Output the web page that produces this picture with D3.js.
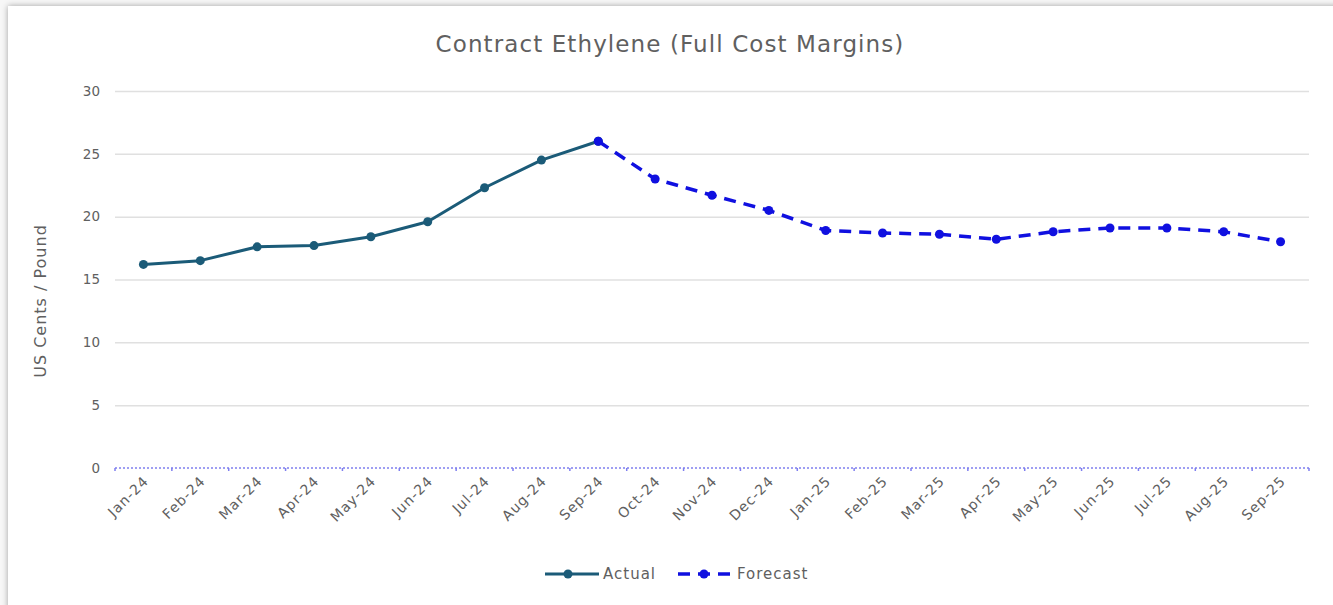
<!DOCTYPE html>
<html>
<head>
<meta charset="utf-8">
<script src="https://cdn.jsdelivr.net/npm/d3@7"></script>
<style>
  html, body { margin: 0; padding: 0; background: #f7f7f7; overflow: hidden; }
  #card {
    position: absolute; left: 8px; top: 6px; width: 1340px; height: 620px;
    background: #ffffff; box-shadow: 0 0 6px rgba(0,0,0,0.35);
  }
  svg { position: absolute; left: 0; top: 0; }
  text { font-family: "DejaVu Sans", "Noto Sans", sans-serif; }
</style>
</head>
<body>
<div id="card"></div>
<svg id="chart" width="1333" height="605"></svg>
<script>
// Month labels along the category axis
const months = ["Jan-24","Feb-24","Mar-24","Apr-24","May-24","Jun-24","Jul-24","Aug-24","Sep-24",
                "Oct-24","Nov-24","Dec-24","Jan-25","Feb-25","Mar-25","Apr-25","May-25","Jun-25",
                "Jul-25","Aug-25","Sep-25"];
// Actual margins, Jan-24 .. Sep-24 (US cents / pound)
const actual = [16.2, 16.5, 17.6, 17.7, 18.4, 19.6, 22.3, 24.5, 26.0];
// Forecast margins, Sep-24 .. Sep-25
const forecastMonths = months.slice(8);
const forecast = [26.0, 23.0, 21.7, 20.5, 18.9, 18.7, 18.6, 18.2, 18.8, 19.1, 19.1, 18.8, 18.0];
const yTicks = [0, 5, 10, 15, 20, 25, 30];

const svg = d3.select("#chart");
const plotLeft = 115, plotRight = 1309, plotTop = 91, plotBottom = 468;

const x = d3.scaleBand().domain(months).range([plotLeft, plotRight]).paddingInner(0).paddingOuter(0);
const cx = m => x(m) + x.bandwidth() / 2;
const y = d3.scaleLinear().domain([0, 30]).range([plotBottom, plotTop]);

const actualColor = "#1b5b78";
const forecastColor = "#1010e0";
const textColor = "#606060";

// Title
svg.append("text").attr("x", 670).attr("y", 52).attr("text-anchor", "middle")
  .attr("font-size", 23).attr("letter-spacing", 1.1).attr("fill", textColor)
  .text("Contract Ethylene (Full Cost Margins)");

// Horizontal gridlines and value labels
const yAxis = d3.axisLeft(y).tickValues(yTicks).tickSize(-(plotRight - plotLeft)).tickPadding(15);
const gy = svg.append("g").attr("transform", `translate(${plotLeft},0)`).call(yAxis);
gy.select(".domain").remove();
gy.selectAll(".tick line").attr("stroke", "#e0e0e0").attr("stroke-width", 1.5)
  .filter(d => d === 0).remove();
gy.selectAll(".tick text").attr("font-size", 13.5).attr("fill", textColor)
  .style("font-family", "'DejaVu Sans', sans-serif");

// Y axis title
svg.append("text").attr("transform", "translate(46,301) rotate(-90)").attr("text-anchor", "middle")
  .attr("font-size", 16).attr("letter-spacing", 1).attr("fill", textColor).text("US Cents / Pound");

// Category axis along zero: dotted baseline with small boundary ticks
svg.append("line").attr("x1", plotLeft).attr("x2", plotRight).attr("y1", y(0)).attr("y2", y(0))
  .attr("stroke", "#7f7fef").attr("stroke-width", 1.5).attr("stroke-dasharray", "2,2");
const bounds = months.map(m => x(m)).concat([plotRight]);
svg.append("g").selectAll("line").data(bounds).join("line")
  .attr("x1", d => d).attr("x2", d => d).attr("y1", y(0)).attr("y2", y(0) + 3)
  .attr("stroke", "#7f7fef").attr("stroke-width", 1.5);

svg.append("g").selectAll("text").data(months).join("text")
  .attr("transform", d => `translate(${cx(d) + 6},${y(0) + 14}) rotate(-45)`)
  .attr("text-anchor", "end").attr("font-size", 14).attr("letter-spacing", 1)
  .attr("fill", textColor).text(d => d);

// Series lines
const line = d3.line().x(d => cx(d.m)).y(d => y(d.v));
const actualData = actual.map((v, i) => ({ m: months[i], v }));
const forecastData = forecast.map((v, i) => ({ m: forecastMonths[i], v }));

svg.append("path").datum(actualData).attr("d", line).attr("fill", "none")
  .attr("stroke", actualColor).attr("stroke-width", 3).attr("stroke-linejoin", "round");
svg.append("g").selectAll("circle").data(actualData).join("circle")
  .attr("cx", d => cx(d.m)).attr("cy", d => y(d.v)).attr("r", 4.5).attr("fill", actualColor);

svg.append("path").datum(forecastData).attr("d", line).attr("fill", "none")
  .attr("stroke", forecastColor).attr("stroke-width", 3.5).attr("stroke-dasharray", "12,8");
svg.append("g").selectAll("circle").data(forecastData).join("circle")
  .attr("cx", d => cx(d.m)).attr("cy", d => y(d.v)).attr("r", 4.5).attr("fill", forecastColor);

// Legend
const lg = svg.append("g").attr("transform", "translate(0,574)");
lg.append("line").attr("x1", 545).attr("x2", 599).attr("stroke", actualColor).attr("stroke-width", 3);
lg.append("circle").attr("cx", 568).attr("r", 4.5).attr("fill", actualColor);
lg.append("text").attr("x", 603).attr("y", 5).attr("font-size", 15).attr("letter-spacing", 1)
  .attr("fill", textColor).text("Actual");
lg.append("line").attr("x1", 678).attr("x2", 730).attr("stroke", forecastColor)
  .attr("stroke-width", 3.5).attr("stroke-dasharray", "12,8");
lg.append("circle").attr("cx", 704).attr("r", 4.5).attr("fill", forecastColor);
lg.append("text").attr("x", 737).attr("y", 5).attr("font-size", 15).attr("letter-spacing", 1)
  .attr("fill", textColor).text("Forecast");
</script>
</body>
</html>
